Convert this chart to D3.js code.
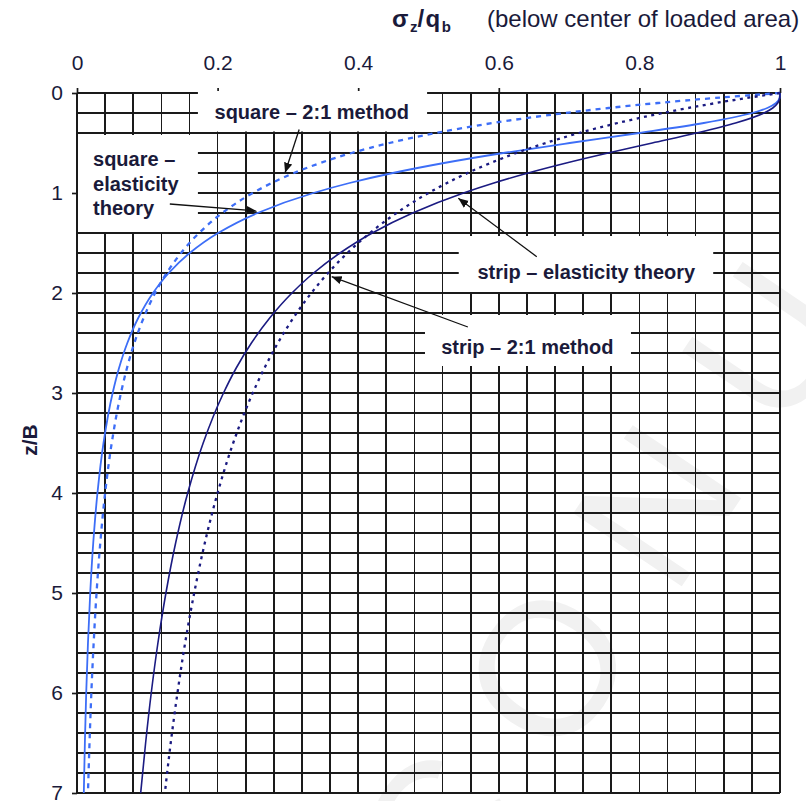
<!DOCTYPE html>
<html>
<head>
<meta charset="utf-8">
<script src="https://cdn.jsdelivr.net/npm/d3@7"></script>
<style>
  body { margin: 0; background: #fff; }
  svg { display: block; }
</style>
</head>
<body>
<svg id="chart" width="806" height="801"></svg>
<script>
// Depth below the footing, z/B
const depth = [0, 0.05, 0.1, 0.15, 0.2, 0.3, 0.4, 0.5, 0.6, 0.7, 0.8, 0.9, 1.0,
  1.2, 1.4, 1.6, 1.8, 2.0, 2.25, 2.5, 2.75, 3.0, 3.5, 4.0, 4.5, 5.0, 5.5, 6.0, 6.5, 7.0];

// Stress ratio sigma_z / q_b below the centre of the loaded area
const squareElastic = [1, 0.9993, 0.9944, 0.9819, 0.9605, 0.8916, 0.7998, 0.7009, 0.6064, 0.5221, 0.4492, 0.3877, 0.3362,
  0.2568, 0.2007, 0.1603, 0.1305, 0.1081, 0.0871, 0.0716, 0.0598, 0.0507, 0.0377, 0.0291, 0.0231, 0.0188, 0.0156, 0.0131, 0.0112, 0.0097];
const square21 = [1, 0.907, 0.8264, 0.7561, 0.6944, 0.5917, 0.5102, 0.4444, 0.3906, 0.346, 0.3086, 0.277, 0.25,
  0.2066, 0.1736, 0.1479, 0.1276, 0.1111, 0.0947, 0.0816, 0.0711, 0.0625, 0.0494, 0.04, 0.0331, 0.0278, 0.0237, 0.0204, 0.0178, 0.0156];
const stripElastic = [1, 0.9996, 0.9968, 0.9897, 0.9773, 0.9368, 0.881, 0.8183, 0.7554, 0.696, 0.6417, 0.593, 0.5498,
  0.4774, 0.42, 0.3741, 0.3366, 0.3058, 0.2741, 0.2481, 0.2265, 0.2084, 0.1795, 0.1575, 0.1403, 0.1265, 0.1151, 0.1056, 0.0976, 0.0906];
const strip21 = [1, 0.9524, 0.9091, 0.8696, 0.8333, 0.7692, 0.7143, 0.6667, 0.625, 0.5882, 0.5556, 0.5263, 0.5,
  0.4545, 0.4167, 0.3846, 0.3571, 0.3333, 0.3077, 0.2857, 0.2667, 0.25, 0.2222, 0.2, 0.1818, 0.1667, 0.1538, 0.1429, 0.1333, 0.125];

// Axis ticks
const xTickValues = [0, 0.2, 0.4, 0.6, 0.8, 1];
const xTickLabels = ["0", "0.2", "0.4", "0.6", "0.8", "1"];
const zTickValues = [0, 1, 2, 3, 4, 5, 6, 7];
const zTickLabels = ["0", "1", "2", "3", "4", "5", "6", "7"];

// Curve annotations: label box (data units), text lines, arrow tail -> head
const annotations = [
  { box: [0.172, -0.02, 0.498, 0.385], lines: ["square \u2013 2:1 method"], anchor: "middle", tx: 0.334, tz: 0.19,
    arrow: [0.316, 0.365, 0.296, 0.797] },
  { box: [0.0, 0.42, 0.172, 1.39], lines: ["square \u2013", "elasticity", "theory"], anchor: "start", tx: 0.0228, tz: 0.66,
    arrow: [0.132, 1.11, 0.2556, 1.18] },
  { box: [0.543, 1.43, 0.905, 1.99], lines: ["strip \u2013 elasticity theory"], anchor: "middle", tx: 0.7245, tz: 1.79,
    arrow: [0.654, 1.637, 0.5424, 1.053] },
  { box: [0.495, 2.22, 0.788, 2.73], lines: ["strip \u2013 2:1 method"], anchor: "middle", tx: 0.6405, tz: 2.54,
    arrow: [0.556, 2.34, 0.3623, 1.837] }
];

const series = [
  { values: squareElastic, color: "#3d6ef7", width: 1.8, dash: null },
  { values: square21, color: "#3d6ef7", width: 2.3, dash: "5,5" },
  { values: stripElastic, color: "#1b1b82", width: 1.6, dash: null },
  { values: strip21, color: "#1b1b82", width: 2.3, dash: "3,4.5" }
];

const svg = d3.select("#chart");
const x = d3.scaleLinear().domain([0, 1]).range([77, 780]);
const z = d3.scaleLinear().domain([0, 7]).range([93, 793]);

// Faint background stamp, one glyph at a time along a rising diagonal
const stampLetters = ["C", "O", "N", "U"];
const stampAngle = -56 * Math.PI / 180;
svg.append("g").selectAll("text").data(stampLetters).join("text")
  .attr("transform", (d, i) => {
    const s = (i - 1) * 196;
    return `translate(${547 + s * Math.cos(stampAngle)},${668 + s * Math.sin(stampAngle)}) rotate(-56)`;
  })
  .attr("text-anchor", "middle")
  .attr("dominant-baseline", "central")
  .attr("font-family", "Liberation Sans, Arial, sans-serif")
  .attr("font-size", 190)
  .attr("fill", "#f1f1f1")
  .text(d => d);

// Grid: every 0.04 across, every 0.2 down
const grid = svg.append("g").attr("stroke", "#1a1a1a").attr("stroke-width", 1.7).attr("shape-rendering", "crispEdges");
grid.selectAll("line.v").data(d3.range(0, 26).map(i => i * 0.04)).join("line")
  .attr("x1", d => x(d)).attr("x2", d => x(d)).attr("y1", z(0)).attr("y2", z(7));
grid.selectAll("line.h").data(d3.range(0, 36).map(i => i * 0.2)).join("line")
  .attr("y1", d => z(d)).attr("y2", d => z(d)).attr("x1", x(0)).attr("x2", x(1));

// Top axis
const topAxis = d3.axisTop(x).tickValues(xTickValues).tickFormat((d, i) => xTickLabels[i]).tickSize(5).tickPadding(18);
const gTop = svg.append("g").attr("transform", `translate(0,${z(0)})`).call(topAxis);
gTop.select(".domain").remove();
gTop.selectAll(".tick line").attr("stroke", "#1a1a1a").attr("stroke-width", 1.7);
gTop.selectAll(".tick text").attr("font-family", "Liberation Sans Narrow, Arial Narrow, Liberation Sans, Arial, sans-serif")
  .attr("font-size", 21).attr("fill", "#1a1a3a");

// Left axis
const leftAxis = d3.axisLeft(z).tickValues(zTickValues).tickFormat((d, i) => zTickLabels[i]).tickSize(5).tickPadding(9);
const gLeft = svg.append("g").attr("transform", `translate(${x(0)},0)`).call(leftAxis);
gLeft.select(".domain").remove();
gLeft.selectAll(".tick line").attr("stroke", "#1a1a1a").attr("stroke-width", 1.7);
gLeft.selectAll(".tick text").attr("font-family", "Liberation Sans Narrow, Arial Narrow, Liberation Sans, Arial, sans-serif")
  .attr("font-size", 21).attr("fill", "#1a1a3a");

// Label boxes mask the grid behind the annotation text
svg.append("g").selectAll("rect").data(annotations).join("rect")
  .attr("x", d => x(d.box[0]) + (d.box[0] === 0 ? 1 : 0))
  .attr("y", d => z(d.box[1]))
  .attr("width", d => x(d.box[2]) - x(d.box[0]) - (d.box[0] === 0 ? 1 : 0))
  .attr("height", d => z(d.box[3]) - z(d.box[1]))
  .attr("fill", "#fff");

// Stress curves
const line = d3.line().x(d => x(d[0])).y(d => z(d[1])).curve(d3.curveMonotoneY);
svg.append("g").selectAll("path").data(series).join("path")
  .attr("d", s => line(s.values.map((v, i) => [v, depth[i]])))
  .attr("fill", "none")
  .attr("stroke", s => s.color)
  .attr("stroke-width", s => s.width)
  .attr("stroke-dasharray", s => s.dash);

// Arrows
svg.append("defs").append("marker")
  .attr("id", "head").attr("viewBox", "0 0 10 10").attr("refX", 10).attr("refY", 5)
  .attr("markerWidth", 10).attr("markerHeight", 10).attr("markerUnits", "userSpaceOnUse").attr("orient", "auto")
  .append("path").attr("d", "M0,0.8 L10,5 L0,9.2 Z").attr("fill", "#111");
svg.append("g").selectAll("line").data(annotations).join("line")
  .attr("x1", d => x(d.arrow[0])).attr("y1", d => z(d.arrow[1]))
  .attr("x2", d => x(d.arrow[2])).attr("y2", d => z(d.arrow[3]))
  .attr("stroke", "#111").attr("stroke-width", 1.3).attr("marker-end", "url(#head)");

// Annotation text
const labels = svg.append("g").attr("font-family", "Liberation Sans, Arial, sans-serif")
  .attr("font-weight", "bold").attr("font-size", 20).attr("fill", "#1a1a3a");
annotations.forEach(a => {
  const t = labels.append("text").attr("text-anchor", a.anchor)
    .attr("x", x(a.tx)).attr("y", z(a.tz) + 7);
  a.lines.forEach((l, i) => {
    t.append("tspan").attr("x", x(a.tx)).attr("dy", i === 0 ? 0 : 24.5).text(l);
  });
});

// Axis titles
const title = svg.append("text").attr("x", 392).attr("y", 27)
  .attr("font-family", "Liberation Sans, Arial, sans-serif").attr("font-size", 24).attr("fill", "#1a1a3a");
title.append("tspan").attr("font-weight", "bold").attr("letter-spacing", 1.5).text("\u03c3");
title.append("tspan").attr("font-weight", "bold").attr("font-size", 15).attr("dy", 5).text("z");
title.append("tspan").attr("font-weight", "bold").attr("letter-spacing", 1.5).attr("dy", -5).text("/q");
title.append("tspan").attr("font-weight", "bold").attr("font-size", 15).attr("dy", 5).text("b");
title.append("tspan").attr("dy", -5).attr("x", 487).text("(below center of loaded area)");

svg.append("text").attr("transform", "translate(37,440) rotate(-90)")
  .attr("text-anchor", "middle")
  .attr("font-family", "Liberation Sans, Arial, sans-serif").attr("font-weight", "bold")
  .attr("font-size", 21).attr("fill", "#1a1a3a").text("z/B");
</script>
</body>
</html>
